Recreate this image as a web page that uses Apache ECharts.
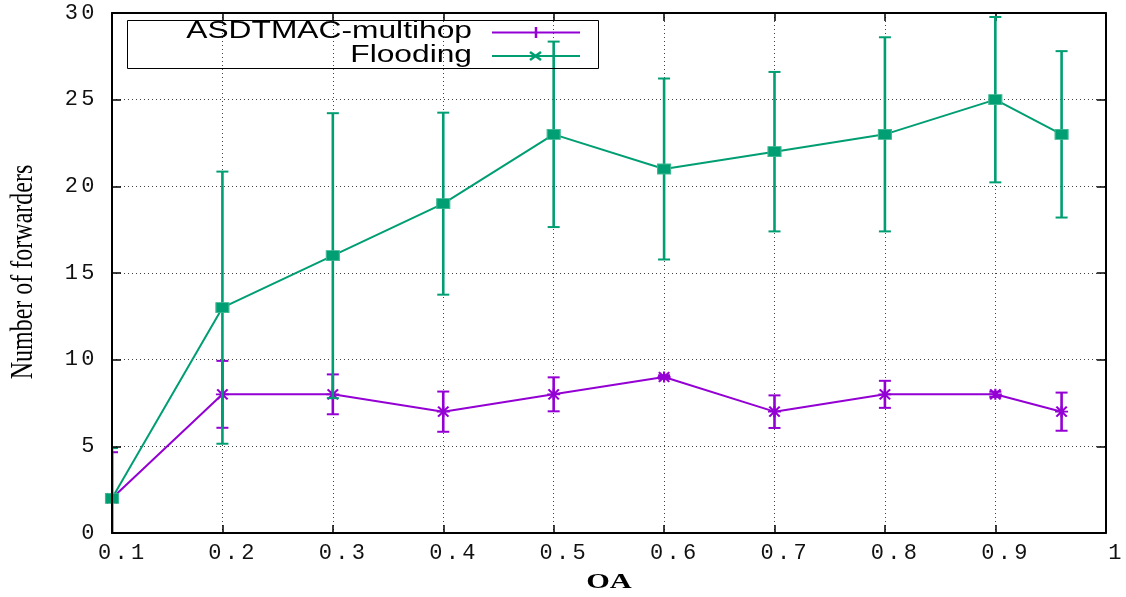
<!DOCTYPE html>
<html>
<head>
<meta charset="utf-8">
<script src="https://cdn.jsdelivr.net/npm/echarts@6/dist/echarts.min.js"></script>
<style>html,body{margin:0;padding:0;background:#fff;}#c{width:1126px;height:597px;}</style>
</head>
<body>
<div id="c"></div>
<script>
// ---- data ----
const oa = [0.1, 0.2, 0.3, 0.4, 0.5, 0.6, 0.7, 0.8, 0.9, 0.96];
const asdtmac = [2, 8, 8, 7, 8, 9, 7, 8, 8, 7];
const asdtmacErr = [2.66, 1.93, 1.15, 1.16, 0.98, 0.1, 0.94, 0.78, 0.15, 1.1];
const flooding = [2, 13, 16, 19, 23, 21, 22, 23, 25, 23];
const floodingErr = [2.9, 7.85, 8.22, 5.25, 5.35, 5.22, 4.6, 5.6, 4.77, 4.8];
const seriesNames = ['ASDTMAC-multihop', 'Flooding'];
const xTitle = 'OA';
const yTitle = 'Number of forwarders';

const PURPLE = '#9400D3';
const GREEN = '#009E73';
const MONO = '"Liberation Mono", "DejaVu Sans Mono", monospace';

function spread(s) {
  return String(s).split('').map(ch => '{c|' + ch + '}').join('');
}
const richChars = { c: { fontFamily: MONO, fontSize: 22, width: 16.5, align: 'center', color: '#111', lineHeight: 22 } };

function errData(vals, errs) { return oa.map((x, i) => [x, vals[i], errs[i]]); }
function lineData(vals) { return oa.map((x, i) => [x, vals[i]]); }

function errRender(color) {
  return function (params, api) {
    const x = api.value(0), y = api.value(1), e = api.value(2);
    const t = api.coord([x, y + e]);
    const b = api.coord([x, y - e]);
    const h = 6;
    return {
      type: 'group',
      children: [
        { type: 'line', shape: { x1: t[0], y1: t[1], x2: b[0], y2: b[1] }, style: { stroke: color, lineWidth: 2.6 } },
        { type: 'line', shape: { x1: t[0] - h, y1: t[1], x2: t[0] + h, y2: t[1] }, style: { stroke: color, lineWidth: 2 } },
        { type: 'line', shape: { x1: b[0] - h, y1: b[1], x2: b[0] + h, y2: b[1] }, style: { stroke: color, lineWidth: 2 } }
      ]
    };
  };
}

const chart = echarts.init(document.getElementById('c'));
const gridLine = { show: true, lineStyle: { color: '#444', width: 1, type: [1, 3] } };
const axisLineStyle = { show: true, onZero: false, lineStyle: { color: '#000', width: 2 } };

const option = {
  animation: false,
  backgroundColor: '#fff',
  grid: { left: 112, right: 18, top: 13, bottom: 64 },
  xAxis: [
    {
      type: 'value', min: 0.1, max: 1, interval: 0.1, position: 'bottom', z: 10,
      axisLine: axisLineStyle,
      axisTick: { show: true, inside: true, length: 8, lineStyle: { color: '#000', width: 1.5 } },
      splitLine: { show: false },
      axisLabel: {
        margin: 9, padding: [0, 0, 0, 18],
        formatter: v => spread(Math.round(v * 10) / 10),
        rich: richChars
      }
    },
    {
      type: 'value', min: 0.1, max: 1, interval: 0.1, position: 'top', z: 0,
      axisLine: axisLineStyle,
      axisTick: { show: true, inside: true, length: 8, lineStyle: { color: '#000', width: 1.5 } },
      splitLine: gridLine, axisLabel: { show: false }
    }
  ],
  yAxis: [
    {
      type: 'value', min: 0, max: 30, interval: 5, position: 'left', z: 10,
      axisLine: axisLineStyle,
      axisTick: { show: true, inside: true, length: 9, lineStyle: { color: '#000', width: 1.5 } },
      splitLine: { show: false },
      axisLabel: { margin: 16, formatter: v => spread(v), rich: richChars }
    },
    {
      type: 'value', min: 0, max: 30, interval: 5, position: 'right', z: 0,
      axisLine: axisLineStyle,
      axisTick: { show: true, inside: true, length: 9, lineStyle: { color: '#000', width: 1.5 } },
      splitLine: gridLine, axisLabel: { show: false }
    }
  ],
  series: [
    {
      name: seriesNames[0] + ' err', type: 'custom', xAxisIndex: 0, yAxisIndex: 0, z: 2, clip: true,
      renderItem: errRender(PURPLE), encode: { x: 0, y: 1 }, data: errData(asdtmac, asdtmacErr)
    },
    {
      name: seriesNames[0], type: 'line', xAxisIndex: 0, yAxisIndex: 0, z: 3,
      data: lineData(asdtmac),
      symbol: 'path://M0,5L10,5M5,0L5,10M1,0.5L9,9.5M9,0.5L1,9.5', symbolSize: [13, 11], symbolKeepAspect: false,
      lineStyle: { color: PURPLE, width: 2 },
      itemStyle: { color: PURPLE, borderColor: PURPLE, borderWidth: 2 }
    },
    {
      name: seriesNames[1] + ' err', type: 'custom', xAxisIndex: 0, yAxisIndex: 0, z: 4, clip: true,
      renderItem: errRender(GREEN), encode: { x: 0, y: 1 }, data: errData(flooding, floodingErr)
    },
    {
      name: seriesNames[1], type: 'line', xAxisIndex: 0, yAxisIndex: 0, z: 5,
      data: lineData(flooding),
      symbol: 'rect', symbolSize: [13, 10],
      lineStyle: { color: GREEN, width: 2 },
      itemStyle: { color: GREEN, borderColor: '#3fb892', borderWidth: 1 }
    }
  ],
  graphic: [
    // legend box
    { type: 'rect', z: 10, shape: { x: 127.5, y: 20.5, width: 471, height: 48 }, style: { fill: 'none', stroke: '#000', lineWidth: 1 } },
    { type: 'text', z: 10, x: 472, y: 32, scaleX: 1.38, style: { text: seriesNames[0], font: '23px "Liberation Sans", Arial, sans-serif', fill: '#000', textAlign: 'right', textVerticalAlign: 'middle', align: 'right', verticalAlign: 'middle' } },
    { type: 'text', z: 10, x: 472, y: 56, scaleX: 1.38, style: { text: seriesNames[1], font: '23px "Liberation Sans", Arial, sans-serif', fill: '#000', textAlign: 'right', textVerticalAlign: 'middle', align: 'right', verticalAlign: 'middle' } },
    { type: 'line', z: 10, shape: { x1: 492, y1: 32.5, x2: 580, y2: 32.5 }, style: { stroke: PURPLE, lineWidth: 2 } },
    { type: 'line', z: 10, shape: { x1: 536, y1: 27, x2: 536, y2: 38 }, style: { stroke: PURPLE, lineWidth: 2.5 } },
    { type: 'line', z: 10, shape: { x1: 492, y1: 56, x2: 580, y2: 56 }, style: { stroke: GREEN, lineWidth: 2 } },
    { type: 'line', z: 10, shape: { x1: 530, y1: 52, x2: 541, y2: 60 }, style: { stroke: GREEN, lineWidth: 2.5 } },
    { type: 'line', z: 10, shape: { x1: 530, y1: 60, x2: 541, y2: 52 }, style: { stroke: GREEN, lineWidth: 2.5 } },
    // axis titles
    { type: 'text', z: 10, x: 609, y: 582, scaleX: 1.38, style: { text: xTitle, font: 'bold 22px "Liberation Serif", "Times New Roman", serif', fill: '#000', textAlign: 'center', textVerticalAlign: 'middle', align: 'center', verticalAlign: 'middle' } },
    { type: 'text', z: 10, x: 24, y: 272, rotation: Math.PI / 2, scaleY: 1.3, style: { text: yTitle, font: '24px "Liberation Serif", "Times New Roman", serif', fill: '#000', textAlign: 'center', textVerticalAlign: 'middle', align: 'center', verticalAlign: 'middle' } }
  ]
};
chart.setOption(option);
</script>
</body>
</html>
